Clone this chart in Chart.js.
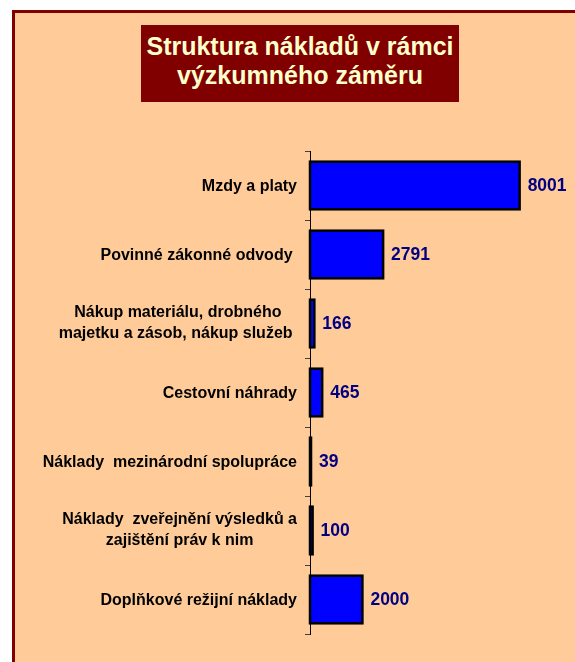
<!DOCTYPE html>
<html>
<head>
<meta charset="utf-8">
<script src="https://cdn.jsdelivr.net/npm/chart.js@4/dist/chart.umd.min.js"></script>
<style>
  html, body { margin: 0; padding: 0; background: #ffffff; overflow: hidden; width: 575px; height: 662px; }
  #panel { position: absolute; left: 12px; top: 10px; width: 620px; height: 720px; box-sizing: border-box;
           border: 3px solid #800000; background: #FFCC99; }
  #title { position: absolute; left: 141px; top: 25px; width: 318px; height: 77px; background: #800000;
           color: #FFFFCC; font: bold 25px "Liberation Sans", Arial, sans-serif; line-height: 28.5px;
           text-align: center; box-sizing: border-box; padding-top: 7px; z-index: 2; }
  #c { position: absolute; left: 0; top: 0; z-index: 1; }
</style>
</head>
<body>
<div id="panel"></div>
<div id="title">Struktura nákladů v rámci<br>výzkumného záměru</div>
<canvas id="c" width="575" height="662"></canvas>
<script>
const categories = [
  ['Mzdy a platy'],
  ['Povinné zákonné odvody '],
  ['Nákup materiálu, drobného', 'majetku a zásob, nákup služeb '],
  ['Cestovní náhrady'],
  ['Náklady  mezinárodní spolupráce'],
  ['Náklady  zveřejnění výsledků a', 'zajištění práv k nim'],
  ['Doplňkové režijní náklady']
];
const values = [8001, 2791, 166, 465, 39, 100, 2000];
const axisMin = 0;
const axisMax = 10000;

const labelFont = 'bold 16px "Liberation Sans", Arial, sans-serif';
const valueFont = 'bold 17.5px "Liberation Sans", Arial, sans-serif';

const textPlugin = {
  id: 'textPlugin',
  afterDatasetsDraw(chart) {
    const ctx = chart.ctx;
    const yScale = chart.scales.y;
    const meta = chart.getDatasetMeta(0);
    ctx.save();
    // bar outlines, stroked centred on the bar edges
    ctx.strokeStyle = '#000000';
    ctx.lineWidth = 2.5;
    ctx.lineJoin = 'miter';
    meta.data.forEach(bar => {
      const x0 = Math.min(bar.base, bar.x);
      const w = Math.abs(bar.x - bar.base);
      ctx.strokeRect(x0, bar.y - bar.height / 2, w, bar.height);
    });
    // category labels (centred lines, block right-aligned near the axis)
    ctx.font = labelFont;
    ctx.fillStyle = '#000000';
    ctx.textAlign = 'center';
    ctx.textBaseline = 'middle';
    const rightEdge = chart.chartArea.left - 13;
    const lineH = 21;
    categories.forEach((lines, i) => {
      const yc = yScale.getPixelForValue(i) + 1;
      const maxW = Math.max(...lines.map(l => ctx.measureText(l).width));
      const cx = rightEdge - maxW / 2;
      const y0 = yc - (lines.length - 1) * lineH / 2 - (lines.length > 1 ? 1 : 0);
      lines.forEach((l, j) => ctx.fillText(l, cx, y0 + j * lineH));
    });
    // value labels
    ctx.font = valueFont;
    ctx.fillStyle = '#000080';
    ctx.textAlign = 'left';
    meta.data.forEach((bar, i) => {
      ctx.fillText(String(values[i]), bar.x + 8, bar.y + 1);
    });
    ctx.restore();
  }
};

new Chart(document.getElementById('c'), {
  type: 'bar',
  data: {
    labels: categories.map(c => c.join(' ')),
    datasets: [{
      data: values,
      backgroundColor: '#0000FF',
      borderWidth: 0,
      inflateAmount: 0,
      categoryPercentage: 1,
      barPercentage: 0.69
    }]
  },
  options: {
    indexAxis: 'y',
    responsive: false,
    animation: false,
    layout: { padding: { left: 305, right: 3, top: 151, bottom: 28 } },
    plugins: { legend: { display: false }, tooltip: { enabled: false }, title: { display: false } },
    scales: {
      x: { display: false, min: axisMin, max: axisMax },
      y: {
        grid: { offset: true, drawOnChartArea: false, tickLength: 5, color: '#404040' },
        border: { display: true, color: '#000000', width: 1 },
        ticks: { display: false },
        afterFit: s => { s.width = 5; }
      }
    }
  },
  plugins: [textPlugin]
});
</script>
</body>
</html>
